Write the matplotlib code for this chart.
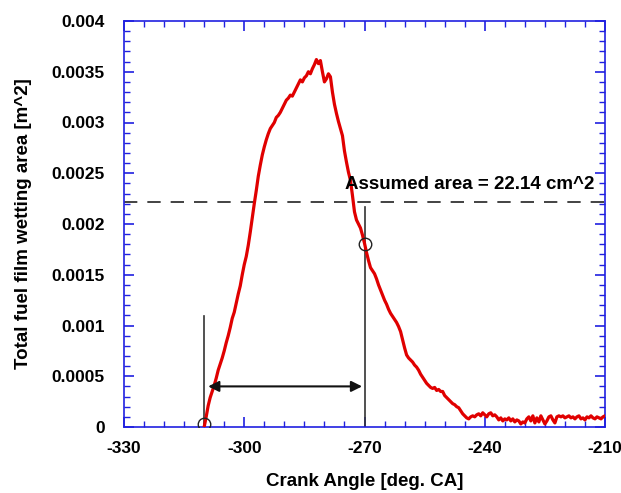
import numpy as np
import matplotlib
matplotlib.use('Agg')
import matplotlib.pyplot as plt
from matplotlib.ticker import MultipleLocator, FuncFormatter

plt.rcParams['font.family'] = ['Liberation Sans', 'DejaVu Sans']
plt.rcParams['font.weight'] = 'bold'
plt.rcParams['axes.unicode_minus'] = False

# crank angle samples [deg. CA]
crank_angle = [
    -310.0, -309.5, -309.0, -308.5, -308.0, -307.5, -307.0, -306.5, -306.0, -305.5,
    -305.0, -304.5, -304.0, -303.5, -303.0, -302.5, -302.0, -301.5, -301.0, -300.5,
    -300.0, -299.5, -299.0, -298.5, -298.0, -297.5, -297.0, -296.5, -296.0, -295.5,
    -295.0, -294.5, -294.0, -293.5, -293.0, -292.5, -292.0, -291.5, -291.0, -290.5,
    -290.0, -289.5, -289.0, -288.5, -288.0, -287.5, -287.0, -286.5, -286.0, -285.5,
    -285.0, -284.5, -284.0, -283.5, -283.0, -282.5, -282.0, -281.5, -281.0, -280.5,
    -280.0, -279.5, -279.0, -278.5, -278.0, -277.5, -277.0, -276.5, -276.0, -275.5,
    -275.0, -274.5, -274.0, -273.5, -273.0, -272.5, -272.0, -271.5, -271.0, -270.5,
    -270.0, -269.5, -269.0, -268.5, -268.0, -267.5, -267.0, -266.5, -266.0, -265.5,
    -265.0, -264.5, -264.0, -263.5, -263.0, -262.5, -262.0, -261.5, -261.0, -260.5,
    -260.0, -259.5, -259.0, -258.5, -258.0, -257.5, -257.0, -256.5, -256.0, -255.5,
    -255.0, -254.5, -254.0, -253.5, -253.0, -252.5, -252.0, -251.5, -251.0, -250.5,
    -250.0, -249.5, -249.0, -248.5, -248.0, -247.5, -247.0, -246.5, -246.0, -245.5,
    -245.0, -244.5, -244.0, -243.5, -243.0, -242.5, -242.0, -241.5, -241.0, -240.5,
    -240.0, -239.5, -239.0, -238.5, -238.0, -237.5, -237.0, -236.5, -236.0, -235.5,
    -235.0, -234.5, -234.0, -233.5, -233.0, -232.5, -232.0, -231.5, -231.0, -230.5,
    -230.0, -229.5, -229.0, -228.5, -228.0, -227.5, -227.0, -226.5, -226.0, -225.5,
    -225.0, -224.5, -224.0, -223.5, -223.0, -222.5, -222.0, -221.5, -221.0, -220.5,
    -220.0, -219.5, -219.0, -218.5, -218.0, -217.5, -217.0, -216.5, -216.0, -215.5,
    -215.0, -214.5, -214.0, -213.5, -213.0, -212.5, -212.0, -211.5, -211.0, -210.5,
    -210.0,
]

# wetting area in 1e-5 m^2
area_1e5 = [
    0, 10, 21, 29, 35, 41, 48, 56, 62, 68,
    75, 83, 90, 98, 107, 113, 122, 131, 139, 150,
    160, 168, 179, 192, 206, 220, 233, 247, 258, 268,
    276, 283, 289, 294, 297, 300, 305, 307, 310, 314,
    318, 322, 324, 327, 326, 330, 334, 338, 342, 340,
    344, 346, 350, 348, 353, 357, 362, 358, 361, 350,
    340, 343, 348, 345, 330, 318, 309, 301, 294, 287,
    272, 261, 251, 243, 228, 212, 204, 200, 196, 189,
    181, 172, 164, 157, 154, 151, 146, 140, 135, 130,
    125, 121, 116, 112, 109, 106, 103, 99, 94, 86,
    78, 71, 68, 66, 64, 61, 59, 56, 52, 49,
    46, 43, 41, 39, 38, 39, 36, 37, 35, 35,
    31, 29, 27, 25, 23, 22, 20, 19, 16, 13,
    11, 9, 8, 10, 11, 10, 12, 13, 11, 14,
    12, 10, 13, 14, 11, 12, 10, 7, 9, 6,
    8, 7, 9, 6, 8, 5, 7, 6, 3, 5,
    4, 8, 10, 6, 11, 4, 9, 5, 11, 7,
    3, 6, 10, 11, 7, 4, 10, 11, 10, 11,
    9, 10, 11, 9, 10, 8, 10, 11, 8, 9,
    7, 10, 9, 11, 9, 8, 10, 9, 8, 10,
    11,
]
wetting_area = np.array(area_1e5) * 1e-5

assumed_area = 0.002214
start_angle = -310.0
end_angle = -270.0
start_marker = 0.00003
end_marker = 0.00180
line_top_start = 0.00109
line_top_end = 0.00217
arrow_level = 0.00040

fig = plt.figure(figsize=(6.21, 4.93), dpi=100)
ax = fig.add_axes([124 / 621, 66 / 493, 481 / 621, 406 / 493])

ax.plot(crank_angle, wetting_area, color='#e00000', lw=2.3, zorder=3)
ax.axhline(assumed_area, color='#222222', lw=1.2, dashes=(8, 6))
ax.text(-274.9, 0.00234, 'Assumed area = 22.14 cm^2', fontsize=13.5,
        fontweight='bold', va='baseline', ha='left')

ax.plot([start_angle, start_angle], [0, line_top_start], color='#333333', lw=1.2)
ax.plot([end_angle, end_angle], [0, line_top_end], color='#333333', lw=1.2)
ax.plot([start_angle, end_angle], [start_marker, end_marker], 'o', ms=9,
        mfc='none', mec='#222222', mew=1.0, zorder=4)
ax.annotate('', xy=(end_angle - 0.6, arrow_level), xytext=(start_angle + 1.0, arrow_level),
            arrowprops=dict(arrowstyle='<|-|>', color='#111111', lw=1.5,
                            mutation_scale=16, shrinkA=0, shrinkB=0))

ax.set_xlim(-330, -210)
ax.set_ylim(0, 0.004)
ax.xaxis.set_major_locator(MultipleLocator(30))
ax.xaxis.set_minor_locator(MultipleLocator(5))
ax.yaxis.set_major_locator(MultipleLocator(0.0005))
ax.yaxis.set_minor_locator(MultipleLocator(0.0001))
ax.yaxis.set_major_formatter(FuncFormatter(lambda v, p: '%g' % round(v, 6)))
ax.xaxis.set_major_formatter(FuncFormatter(lambda v, p: '%d' % v))

for s in ax.spines.values():
    s.set_color('#2020e0')
    s.set_linewidth(1.2)
ax.tick_params(which='both', direction='in', top=True, right=True, color='#2020e0',
               labelsize=12.5)
ax.tick_params(axis='y', pad=14)
ax.tick_params(axis='x', pad=10)
ax.tick_params(which='major', length=7, width=1.2)
ax.tick_params(which='minor', length=4, width=1.0)
for lab in ax.get_xticklabels() + ax.get_yticklabels():
    lab.set_fontweight('bold')

ax.set_xlabel('Crank Angle [deg. CA]', fontsize=13.5, fontweight='bold', labelpad=12)
ax.set_ylabel('Total fuel film wetting area [m^2]', fontsize=13.5, fontweight='bold',
              labelpad=14)

fig.savefig('out.png', dpi=100)
